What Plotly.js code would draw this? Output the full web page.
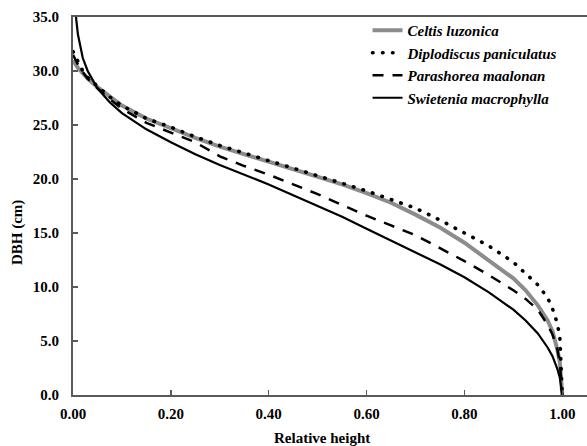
<!DOCTYPE html>
<html>
<head>
<meta charset="utf-8">
<script src="https://cdn.plot.ly/plotly-3.0.1.min.js"></script>
<style>html,body{margin:0;padding:0;background:#fff;}#chart{width:587px;height:446px;}</style>
</head>
<body>
<div id="chart"></div>
<script>
const relHeight = [0, 0.005, 0.01, 0.02, 0.03, 0.05, 0.075, 0.1, 0.15, 0.2, 0.25, 0.3, 0.35, 0.4, 0.45, 0.5, 0.55, 0.6, 0.65, 0.7, 0.75, 0.8, 0.85, 0.9, 0.925, 0.95, 0.97, 0.98, 0.99, 0.995, 1.0];
const celtis      = [31.0, 30.6, 30.3, 29.8, 29.3, 28.5, 27.6, 26.8, 25.6, 24.7, 23.8, 23.0, 22.3, 21.6, 20.9, 20.2, 19.5, 18.7, 17.8, 16.7, 15.5, 14.1, 12.5, 10.8, 9.7, 8.3, 6.9, 5.9, 4.2, 3.0, 0];
const diplodiscus = [31.8, 31.3, 30.8, 30.0, 29.4, 28.6, 27.6, 26.8, 25.6, 24.8, 23.9, 23.1, 22.4, 21.7, 21.0, 20.3, 19.6, 18.9, 18.1, 17.3, 16.2, 15.0, 13.8, 12.3, 11.3, 10.2, 9.0, 8.0, 6.6, 5.3, 0];
const parashorea  = [31.5, 31.0, 30.6, 29.9, 29.3, 28.4, 27.4, 26.5, 25.2, 24.3, 23.4, 22.1, 21.2, 20.4, 19.5, 18.6, 17.6, 16.6, 15.7, 14.8, 13.6, 12.4, 11.1, 9.7, 8.9, 7.9, 6.5, 5.6, 4.2, 3.0, 0];
const swietenia   = [37.5, 35.1, 33.4, 31.2, 30.0, 28.4, 27.1, 26.1, 24.6, 23.4, 22.3, 21.3, 20.4, 19.5, 18.5, 17.5, 16.5, 15.4, 14.3, 13.2, 12.1, 10.9, 9.5, 7.9, 6.9, 5.7, 4.4, 3.6, 2.4, 1.6, 0];
const seriesNames = ["Celtis luzonica", "Diplodiscus paniculatus", "Parashorea maalonan", "Swietenia macrophylla"];
const xTickVals = [0, 0.2, 0.4, 0.6, 0.8, 1.0];
const xTickText = ["0.00", "0.20", "0.40", "0.60", "0.80", "1.00"];
const yTickVals = [0, 5, 10, 15, 20, 25, 30, 35];
const yTickText = ["0.0", "5.0", "10.0", "15.0", "20.0", "25.0", "30.0", "35.0"];
const xTitle = "Relative height";
const yTitle = "DBH (cm)";

const serif = "Liberation Serif";
const mk = (y, i, line) => ({
  x: relHeight, y: y, name: seriesNames[i], type: "scatter", mode: "lines", line: line
});
const data = [
  mk(celtis, 0, {color: "#8c8c8c", width: 4}),
  mk(diplodiscus, 1, {color: "#000", width: 3.6, dash: "0.5px,9.5px"}),
  mk(parashorea, 2, {color: "#000", width: 2.5, dash: "11px,9px"}),
  mk(swietenia, 3, {color: "#000", width: 2.2})
];
const titleFont = {family: serif, size: 15, color: "#000", weight: "bold"};
const layout = {
  width: 587, height: 446,
  margin: {l: 73, r: 0, t: 17, b: 51},
  paper_bgcolor: "#fff", plot_bgcolor: "#fff",
  font: {family: serif, color: "#000"},
  showlegend: true,
  legend: {x: 0.573, y: 1.008, xanchor: "left", yanchor: "top", bgcolor: "rgba(0,0,0,0)",
           font: {family: serif, size: 15, color: "#000", weight: "bold", style: "italic"}},
  xaxis: {range: [0, 1.0505], tickvals: xTickVals, ticktext: xTickText,
          ticks: "inside", ticklen: 5, tickwidth: 1.5, tickcolor: "#595959",
          showline: true, linecolor: "#595959", linewidth: 2, mirror: true,
          showgrid: false, zeroline: false, ticklabelstandoff: 4,
          tickfont: {family: serif, size: 15, color: "#000", weight: "bold"}},
  yaxis: {range: [0, 35], tickvals: yTickVals, ticktext: yTickText,
          ticks: "inside", ticklen: 5, tickwidth: 1.5, tickcolor: "#595959",
          showline: true, linecolor: "#595959", linewidth: 2,
          showgrid: false, zeroline: false, ticklabelstandoff: 9,
          tickfont: {family: serif, size: 15, color: "#000", weight: "bold"}},
  annotations: [
    {text: xTitle, xref: "paper", yref: "paper", x: 0.4844, y: -0.1138,
     xanchor: "center", yanchor: "middle", showarrow: false, font: titleFont},
    {text: yTitle, xref: "paper", yref: "paper", x: -0.109, y: 0.431, textangle: -90,
     xanchor: "center", yanchor: "middle", showarrow: false, font: titleFont}
  ]
};
Plotly.newPlot("chart", data, layout, {displayModeBar: false, staticPlot: true}).then(function () {
  const tr = document.querySelectorAll(".scatterlayer .trace");
  if (tr[1]) tr[1].querySelectorAll("path.js-line").forEach(p => p.style.strokeLinecap = "round");
  const lt = document.querySelectorAll(".legend .traces");
  if (lt[1]) lt[1].querySelectorAll("path").forEach(p => p.style.strokeLinecap = "round");
});
</script>
</body>
</html>
